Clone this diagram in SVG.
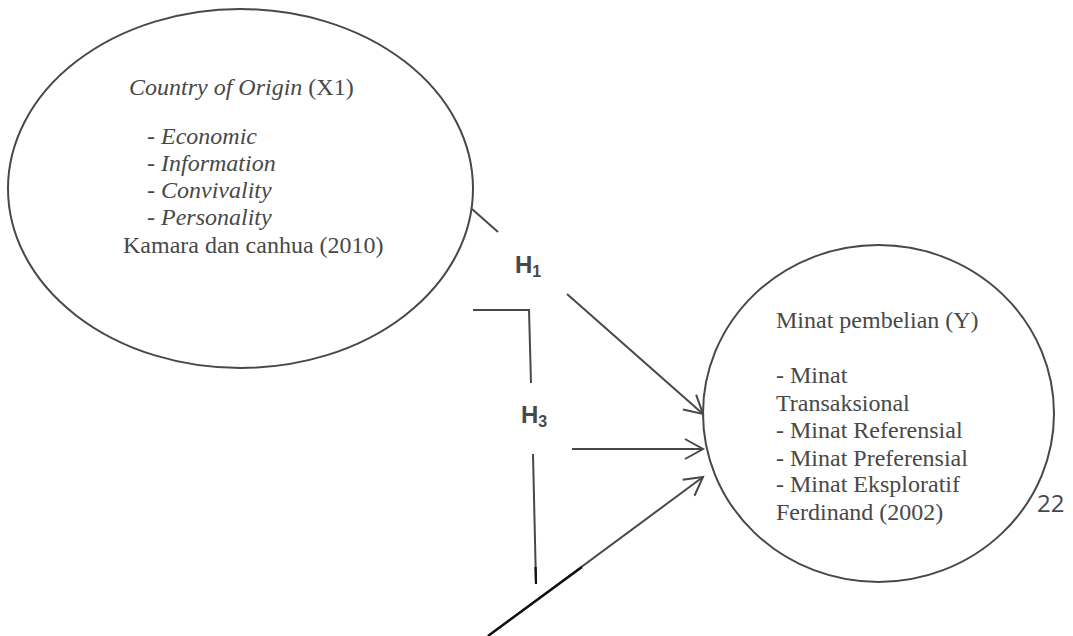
<svg xmlns="http://www.w3.org/2000/svg" width="1073" height="636" viewBox="0 0 1073 636">
<defs>
<style>
.n{fill:none;stroke:#484848;stroke-width:2}
.t{font-family:"Liberation Serif","Times New Roman",serif;font-size:24px;fill:#484848}
.h{font-family:"Liberation Sans",Arial,sans-serif;font-size:24px;font-weight:bold;fill:#484848}
.c{fill:none;stroke:#484848;stroke-width:2}
</style>
<marker id="ah" markerUnits="userSpaceOnUse" markerWidth="24" markerHeight="24" refX="20" refY="12" orient="auto" viewBox="0 0 24 24">
<path d="M2,2 L20,12 L2,22" fill="none" stroke="#484848" stroke-width="2"/>
</marker>
</defs>
<rect width="1073" height="636" fill="#fff"/>
<g id="x1">
<ellipse class="n" cx="240.5" cy="188.5" rx="232.5" ry="179.5"/>
<text class="t" x="129" y="95"><tspan font-style="italic">Country of Origin</tspan> (X1)</text>
<text class="t" x="147" y="144" font-style="italic">- Economic</text>
<text class="t" x="147" y="171" font-style="italic">- Information</text>
<text class="t" x="147" y="198" font-style="italic">- Convivality</text>
<text class="t" x="147" y="225" font-style="italic">- Personality</text>
<text class="t" x="123" y="253">Kamara dan canhua (2010)</text>
</g>
<g id="y">
<ellipse class="n" cx="878.5" cy="413.5" rx="175.5" ry="168.5"/>
<text class="t" x="776" y="328">Minat pembelian (Y)</text>
<text class="t" x="776" y="383">- Minat</text>
<text class="t" x="776" y="411">Transaksional</text>
<text class="t" x="776" y="438">- Minat Referensial</text>
<text class="t" x="776" y="466">- Minat Preferensial</text>
<text class="t" x="776" y="492">- Minat Eksploratif</text>
<text class="t" x="776" y="520">Ferdinand (2002)</text>
</g>
<g id="labels">
<text class="h" x="515" y="273">H<tspan font-size="16" dy="4">1</tspan></text>
<text class="h" x="521" y="423">H<tspan font-size="16" dy="4">3</tspan></text>
<text x="1037" y="512" font-family="Open Sans,Liberation Sans,sans-serif" font-size="24" fill="#484848">22</text>
</g>
<g id="connectors">
<line class="c" x1="472" y1="209" x2="498" y2="232"/>
<line class="c" x1="567" y1="294" x2="703" y2="414" marker-end="url(#ah)"/>
<polyline class="c" points="473,310 529,310 531,383"/>
<line class="c" x1="533" y1="454" x2="536" y2="584"/>
<line x1="535.6" y1="567" x2="536" y2="584" stroke="#111" stroke-width="2.2"/>
<line class="c" x1="572" y1="449" x2="703" y2="449" marker-end="url(#ah)"/>
<line class="c" x1="488" y1="636" x2="703" y2="477" marker-end="url(#ah)"/>
<line x1="488" y1="636" x2="582" y2="567" stroke="#111" stroke-width="2.4"/>
</g>
</svg>
